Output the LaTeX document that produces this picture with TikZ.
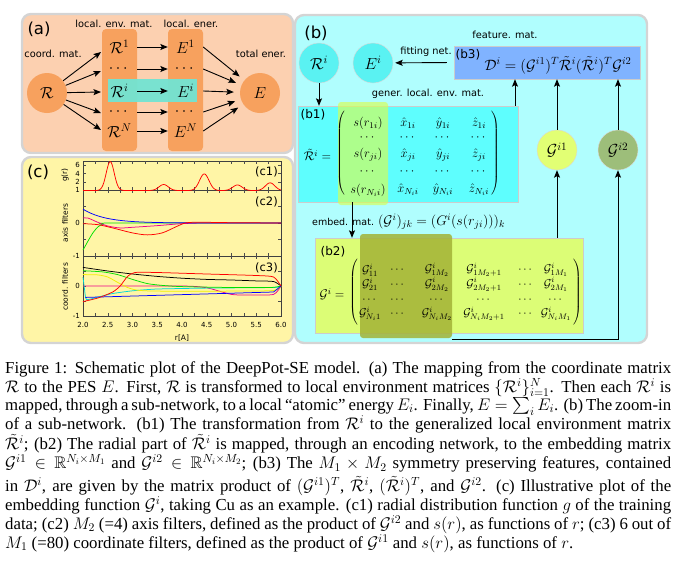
\RequirePackage{fix-cm}
\documentclass[tikz,border=0pt]{standalone}
\usepackage{amsmath,amssymb}
\usepackage[no-math]{fontspec}
\setmainfont{Liberation Serif}
\newfontfamily\labfont{DejaVu Sans}
\usetikzlibrary{arrows.meta}
\definecolor{peach}{HTML}{FCD0B0}
\definecolor{orng}{HTML}{F7A15E}
\definecolor{turq}{HTML}{72E4D2}
\definecolor{lcyan}{HTML}{B0FEFE}
\definecolor{cyanc}{HTML}{5AF2F2}
\definecolor{bcyan}{HTML}{5EFEFE}
\definecolor{blueb}{HTML}{80B3FF}
\definecolor{ygreen}{HTML}{DCFD76}
\definecolor{gcirc}{HTML}{E2FF74}
\definecolor{olivec}{HTML}{9DBE7A}
\definecolor{ovl}{HTML}{A3B236}
\definecolor{hl}{HTML}{D8FF50}
\definecolor{pyellow}{HTML}{FFF5A6}
\definecolor{bordg}{HTML}{D4D4D4}
\definecolor{cyanl}{HTML}{00D8D8}
\definecolor{yell}{HTML}{F0F000}
\definecolor{grn}{HTML}{00E000}
\newcommand{\lparbig}[1]{$\delimitershortfall=0pt\delimiterfactor=1000\left(\vcenter{\hbox{\rule{0pt}{#1}}}\right.$}
\newcommand{\rparbig}[1]{$\delimitershortfall=0pt\delimiterfactor=1000\left.\vcenter{\hbox{\rule{0pt}{#1}}}\right)$}
\begin{document}
\begin{tikzpicture}[x=1pt,y=-1pt,
  panel/.style={draw=bordg, line width=2.4pt, rounded corners=9pt},
  lab/.style={font=\labfont\fontsize{9.8}{10}\selectfont, inner sep=0pt},
  plab/.style={font=\labfont\fontsize{16.5}{17}\selectfont, inner sep=0pt},
  sublab/.style={font=\labfont\fontsize{12}{12}\selectfont, inner sep=0pt},
  arr/.style={-{Stealth[length=7.5pt,width=6pt,inset=1.5pt]}, line width=0.9pt},
  colent/.style={font=\fontsize{16}{16}\selectfont, inner sep=0pt, minimum width=35pt, minimum height=18pt},
  circ/.style={circle, inner sep=0pt, minimum size=40pt, font=\fontsize{16}{16}\selectfont},
  ent/.style={inner sep=0pt, font=\fontsize{12.5}{13}\selectfont},
  gent/.style={inner sep=0pt, font=\fontsize{11.5}{12}\selectfont},
  tick/.style={line width=0.5pt, black!70},
  ticklab/.style={font=\labfont\fontsize{7}{7}\selectfont, inner sep=0pt},
  curve/.style={line width=0.75pt}
]
\useasboundingbox (0,0) rectangle (675,568);
% ---------------- panel (a)
\draw[panel, fill=peach] (22,14) rectangle (293,153);
\fill[orng, rounded corners=4pt] (102,29) rectangle (137,151);
\fill[orng, rounded corners=4pt] (168,29) rectangle (203,151);
\fill[turq, opacity=0.95] (108,79) rectangle (197,102);
\node[plab] (la) at (39,29) {(a)};
\node[lab] (lenv) at (114,24) {local. env. mat.};
\node[lab] (lener) at (191,24) {local. ener.};
\node[lab] (lcoord) at (53,54) {coord. mat.};
\node[lab] (ltot) at (261,54) {total ener.};
\node[circ, fill=orng] (R) at (47,93) {$\mathcal{R}$};
\node[circ, fill=orng] (E) at (260,93) {$E$};
\node[colent] (r1) at (119.5,47) {$\mathcal{R}^1$};
\node[colent] (r2) at (119.5,69) {$\cdots$};
\node[colent] (r3) at (119.5,91) {$\mathcal{R}^i$};
\node[colent] (r4) at (119.5,112) {$\cdots$};
\node[colent] (r5) at (119.5,131) {$\mathcal{R}^N$};
\node[colent] (e1) at (185.5,47) {$E^1$};
\node[colent] (e2) at (185.5,69) {$\cdots$};
\node[colent] (e3) at (185.5,91) {$E^i$};
\node[colent] (e4) at (185.5,112) {$\cdots$};
\node[colent] (e5) at (185.5,131) {$E^N$};
\coordinate (t1) at (101,52);
\coordinate (t2) at (101,71);
\coordinate (t3) at (101,92);
\coordinate (t4) at (101,113);
\coordinate (t5) at (101,130);
\foreach \k in {1,...,5} {
  \draw[arr] (R) -- (t\k);
  \draw[arr] (r\k) -- (e\k);
  \draw[arr, shorten >=6pt] (e\k.east) -- (E);
}
% ---------------- panel (b)
\draw[panel, fill=lcyan] (295,15) rectangle (647,343);
\node[plab] (lb) at (316,33) {(b)};
\node[circ, fill=cyanc, draw=black!15] (Ri) at (319,63) {$\mathcal{R}^i$};
\node[circ, fill=cyanc, draw=black!15] (Ei) at (373,63) {$E^i$};
\node[draw=black!20, fill=blueb, minimum width=186pt, minimum height=33pt, inner sep=0pt] (b3) at (547,62.5) {};
\node[sublab] (lb3) at (468,55) {(b3)};
\node[inner sep=0pt, font=\fontsize{15}{15}\selectfont] (D) at (558,65) {$\mathcal{D}^i=(\mathcal{G}^{i1})^T\tilde{\mathcal{R}}^i(\tilde{\mathcal{R}}^i)^T\mathcal{G}^{i2}$};
\node[lab] (lfit) at (426,52) {fitting net.};
\node[lab] (lfeat) at (505,35) {feature. mat.};
\node[lab] (lgen) at (428,94) {gener. local. env. mat.};
\draw[arr, shorten <=7pt, shorten >=2pt] (b3.west) -- (Ei);
% b1
\node[draw=black!20, fill=bcyan, minimum width=220pt, minimum height=96pt, inner sep=0pt] (b1) at (408,154) {};
\fill[hl, opacity=0.65, rounded corners=3pt] (338,102) rectangle (388,205);
\node[sublab] (lb1) at (313,115) {(b1)};
\node[ent] (rt) at (317.5,155) {$\tilde{\mathcal{R}}^i=$};
\node[inner sep=0pt] (lp1) at (341,153) {\lparbig{80pt}};
\node[inner sep=0pt] (rp1) at (495,153) {\rparbig{80pt}};
\node[ent] (m11) at (368,123) {$s(r_{1i})$};
\node[ent] (m12) at (408,123) {$\hat{x}_{1i}$};
\node[ent] (m13) at (443,123) {$\hat{y}_{1i}$};
\node[ent] (m14) at (479,123) {$\hat{z}_{1i}$};
\node[ent] (m31) at (368,155) {$s(r_{ji})$};
\node[ent] (m32) at (408,155) {$\hat{x}_{ji}$};
\node[ent] (m33) at (443,155) {$\hat{y}_{ji}$};
\node[ent] (m34) at (479,155) {$\hat{z}_{ji}$};
\node[ent] (m51) at (368,190) {$s(r_{N_ii})$};
\node[ent] (m52) at (408,190) {$\hat{x}_{N_ii}$};
\node[ent] (m53) at (443,190) {$\hat{y}_{N_ii}$};
\node[ent] (m54) at (479,190) {$\hat{z}_{N_ii}$};
\foreach \xx [count=\c] in {368,408,443,479} {
  \node[ent] (m2\c) at (\xx,138) {$\cdots$};
  \node[ent] (m4\c) at (\xx,172) {$\cdots$};
}
% b2
\node[draw=black!20, fill=ygreen, minimum width=268pt, minimum height=95pt, inner sep=0pt] (b2) at (449,285.5) {};
\node[fill=ovl, opacity=0.85, rounded corners=3pt, minimum width=92pt, minimum height=104pt, inner sep=0pt] (ov2) at (406,286) {};
\node[sublab] (lb2) at (333,252) {(b2)};
\node[inner sep=0pt, font=\fontsize{12.5}{13}\selectfont] (gi) at (332,294) {$\mathcal{G}^i=$};
\node[inner sep=0pt] (lp2) at (354,292) {\lparbig{62pt}};
\node[inner sep=0pt] (rp2) at (577,292) {\rparbig{62pt}};
\node[gent] (g11) at (370,270) {$\mathcal{G}^i_{11}$};
\node[gent] (g12) at (398,270) {$\cdots$};
\node[gent] (g13) at (437,270) {$\mathcal{G}^i_{1M_2}$};
\node[gent] (g14) at (484,270) {$\mathcal{G}^i_{1M_2+1}$};
\node[gent] (g15) at (526,270) {$\cdots$};
\node[gent] (g16) at (556,270) {$\mathcal{G}^i_{1M_1}$};
\node[gent] (g21) at (370,284.5) {$\mathcal{G}^i_{21}$};
\node[gent] (g22) at (398,284.5) {$\cdots$};
\node[gent] (g23) at (437,284.5) {$\mathcal{G}^i_{2M_2}$};
\node[gent] (g24) at (484,284.5) {$\mathcal{G}^i_{2M_2+1}$};
\node[gent] (g25) at (526,284.5) {$\cdots$};
\node[gent] (g26) at (556,284.5) {$\mathcal{G}^i_{2M_1}$};
\foreach \xx [count=\c] in {370,398,437,484,526,556} {
  \node[gent] (g3\c) at (\xx,300) {$\cdots$};
}
\node[gent] (g41) at (370,314) {$\mathcal{G}^i_{N_i1}$};
\node[gent] (g42) at (398,314) {$\cdots$};
\node[gent] (g43) at (437,314) {$\mathcal{G}^i_{N_iM_2}$};
\node[gent] (g44) at (484,314) {$\mathcal{G}^i_{N_iM_2+1}$};
\node[gent] (g45) at (526,314) {$\cdots$};
\node[gent] (g46) at (556,314) {$\mathcal{G}^i_{N_iM_1}$};
% circles G
\node[circ, fill=gcirc, draw=black!15] (Gi1) at (557,150) {$\mathcal{G}^{i1}$};
\node[circ, fill=olivec, draw=black!15] (Gi2) at (618,150) {$\mathcal{G}^{i2}$};
\coordinate (embx) at (352,0);
\coordinate (upx) at (515,0);
\draw[arr] (Ri) -- (Ri |- b1.north);
\draw[arr] (b1.north -| upx) -- (b3.south -| upx);
\draw[arr] (Gi1) -- (Gi1 |- b3.south);
\draw[arr] (Gi2) -- (Gi2 |- b3.south);
\draw[arr] (b1.south -| embx) -- (b2.north -| embx);
\draw[arr] (b2.north -| Gi1) -- (Gi1);
\draw[arr] ([yshift=-1pt]ov2.south east) -| (Gi2);
\node[anchor=west, inner sep=0pt] (emb) at (312,222) {\labfont\fontsize{9.5}{10}\selectfont embed. mat. \fontsize{14}{14}\selectfont$(\mathcal{G}^i)_{jk}=(G^i(s(r_{ji})))_k$};
% ---------------- panel (c)
\draw[panel, fill=pyellow] (22,157) rectangle (293,343);
\node[plab] (lc) at (38,172) {(c)};
\draw[line width=0.6pt, black!75] (83,161) rectangle (281,316);
\draw[line width=0.6pt, black!75] (83,190) -- (281,190);
\draw[line width=0.6pt, black!75] (83,256) -- (281,256);
\foreach \i in {1,...,15} {
  \draw[tick] ({83+\i*12.375},161) -- ++(0,3);
  \draw[tick] ({83+\i*12.375},187) -- ++(0,6);
  \draw[tick] ({83+\i*12.375},253) -- ++(0,6);
  \draw[tick] ({83+\i*12.375},316) -- ++(0,-3);
}
\foreach \yy in {165,173.5,182,206.5,223,239.5,271,286,301} {
  \draw[tick] (83,\yy) -- ++(3,0);
  \draw[tick] (281,\yy) -- ++(-3,0);
}
\foreach \v [count=\c] in {2.0,2.5,3.0,3.5,4.0,4.5,5.0,5.5,6.0} {
  \node[ticklab] (xl\c) at ({83+(\c-1)*24.75},325) {\v};
}
\node[ticklab, anchor=east] (y1) at (80,165) {6};
\node[ticklab, anchor=east] (y2) at (80,173.5) {4};
\node[ticklab, anchor=east] (y3) at (80,182) {2};
\node[ticklab, anchor=east] (y4) at (80,190) {1};
\node[ticklab, anchor=east] (y5) at (80,223) {0};
\node[ticklab, anchor=east] (y6) at (80,256) {-1};
\node[ticklab, anchor=east] (y7) at (80,286) {0};
\node[ticklab, anchor=east] (y8) at (80,316) {-1};
\node[ticklab, font=\labfont\fontsize{7.5}{8}\selectfont, rotate=90] (yt1) at (65,175) {g(r)};
\node[ticklab, font=\labfont\fontsize{7.5}{8}\selectfont, rotate=90] (yt2) at (65,223) {axis filters};
\node[ticklab, font=\labfont\fontsize{7.5}{8}\selectfont, rotate=90] (yt3) at (65,287) {coord. filters};
\node[ticklab, font=\labfont\fontsize{7.5}{8}\selectfont] (xt) at (182,338) {r[A]};
\node[sublab, anchor=east, font=\labfont\fontsize{11.5}{12}\selectfont] (c1) at (278,172) {(c1)};
\node[sublab, anchor=east, font=\labfont\fontsize{11.5}{12}\selectfont] (c2) at (278,202) {(c2)};
\node[sublab, anchor=east, font=\labfont\fontsize{11.5}{12}\selectfont] (c3) at (278,268) {(c3)};
% c1 curve
\begin{scope}[shift={(-16pt,-190.5pt)}, x=49.5pt, y=4.25pt]
\draw[curve, red] plot[domain=2:6, samples=240] (\x, {6.8*exp(max(-30,((\x-2.55)^2)/(-0.013)))+1.4*exp(max(-30,((\x-3.63)^2)/(-0.018)))+3.9*exp(max(-30,((\x-4.45)^2)/(-0.018)))+1.3*exp(max(-30,((\x-5.12)^2)/(-0.018)))+1.8*exp(max(-30,((\x-5.78)^2)/(-0.018)))});
\end{scope}
% c2 curves
\begin{scope}[shift={(-16pt,-223pt)}, x=49.5pt, y=33pt]
\draw[curve, grn] plot[smooth, tension=0.5] coordinates {(2,-0.82) (2.1,-0.55) (2.2,-0.3) (2.3,-0.12) (2.4,-0.04) (2.6,0) (6,0)};
\draw[curve, magenta] plot[smooth, tension=0.5] coordinates {(2,0.15) (2.1,0.15) (2.3,0.02) (2.5,-0.09) (2.75,-0.15) (3.0,-0.13) (3.5,-0.08) (4.0,-0.02) (4.5,0) (6,0)};
\draw[curve, blue] plot[domain=2:6, samples=80] (\x, {0.42*exp(max(-30,(\x-2)/(-0.45)))});
\draw[curve, red] plot[smooth, tension=0.5] coordinates {(2,-0.02) (2.3,-0.05) (2.6,-0.15) (3.0,-0.3) (3.3,-0.36) (3.6,-0.3) (3.9,-0.1) (4.1,0.01) (4.5,0.02) (5,0.01) (6,0)};
\end{scope}
% c3 curves
\begin{scope}[shift={(-16pt,-286pt)}, x=49.5pt, y=30pt]
\draw[curve, black] plot[smooth, tension=0.4] coordinates {(2,0.62) (2.5,0.5) (3,0.4) (3.5,0.32) (4,0.26) (4.5,0.22) (5,0.2) (5.5,0.17) (5.85,0.15) (6,0)};
\draw[curve, magenta] plot[smooth, tension=0.4] coordinates {(2,0) (4.0,0) (4.5,-0.06) (5,-0.28) (5.4,-0.3) (5.85,-0.28) (6,0)};
\draw[curve, cyanl] plot[smooth, tension=0.3] coordinates {(2,0.3) (2.03,-0.1) (2.07,-0.45) (2.3,-0.37) (2.6,-0.25) (3,-0.16) (3.5,-0.1) (4.5,-0.07) (5.85,-0.05) (6,0)};
\draw[curve, yell] plot[smooth, tension=0.4] coordinates {(2,0.38) (2.3,0.37) (2.5,0.3) (2.7,0.12) (2.9,-0.05) (3.1,-0.14) (3.5,-0.17) (5,-0.17) (5.85,-0.15) (6,0)};
\draw[curve, grn] plot[smooth, tension=0.4] coordinates {(2,0.51) (2.4,0.47) (2.7,0.38) (3.0,0.22) (3.3,0.08) (3.6,0.02) (4,-0.02) (5,-0.05) (5.8,-0.05) (6,0)};
\draw[curve, blue] plot coordinates {(2.05,-0.38) (5.85,-0.2) (6,0)};
\draw[curve, red] plot[smooth, tension=0.4] coordinates {(2,-0.52) (2.3,-0.4) (2.6,-0.2) (2.75,0.0) (2.9,0.32) (3.05,0.45) (3.5,0.45) (4.5,0.4) (5.5,0.35) (5.85,0.3) (6,0)};
\end{scope}
% ---------------- caption
\node[anchor=north west, inner sep=0pt, text width=666pt, align=justify] (cap) at (5,361.5) {\fontsize{16.8}{21}\selectfont\baselineskip=21pt\lineskiplimit=-30pt\lineskip=0pt\relax
Figure 1: Schematic plot of the DeepPot-SE model. (a) The mapping from the coordinate matrix\linebreak
$\mathcal{R}$ to the PES $E$. First, $\mathcal{R}$ is transformed to local environment matrices $\{\mathcal{R}^i\}_{i=1}^{N}$. Then each $\mathcal{R}^i$ is\linebreak
mapped, through a sub-network, to a local “atomic” energy $E_i$. Finally, $E=\sum_i E_i$. (b) The zoom-in\linebreak
of a sub-network. (b1) The transformation from $\mathcal{R}^i$ to the generalized local environment matrix\linebreak
$\tilde{\mathcal{R}}^i$; (b2) The radial part of $\tilde{\mathcal{R}}^i$ is mapped, through an encoding network, to the embedding matrix\linebreak
$\mathcal{G}^{i1}\in\mathbb{R}^{N_i\times M_1}$ and $\mathcal{G}^{i2}\in\mathbb{R}^{N_i\times M_2}$; (b3) The $M_1\times M_2$ symmetry preserving features, contained\vadjust{\vskip 3pt}\linebreak
in $\mathcal{D}^i$, are given by the matrix product of $(\mathcal{G}^{i1})^T$, $\tilde{\mathcal{R}}^i$, $(\tilde{\mathcal{R}}^i)^T$, and $\mathcal{G}^{i2}$. (c) Illustrative plot of the\linebreak
embedding function $\mathcal{G}^i$, taking Cu as an example. (c1) radial distribution function $g$ of the training\linebreak
data; (c2) $M_2$ (=4) axis filters, defined as the product of $\mathcal{G}^{i2}$ and $s(r)$, as functions of $r$; (c3) 6 out of\linebreak
$M_1$ (=80) coordinate filters, defined as the product of $\mathcal{G}^{i1}$ and $s(r)$, as functions of $r$.};
\end{tikzpicture}
\end{document}
